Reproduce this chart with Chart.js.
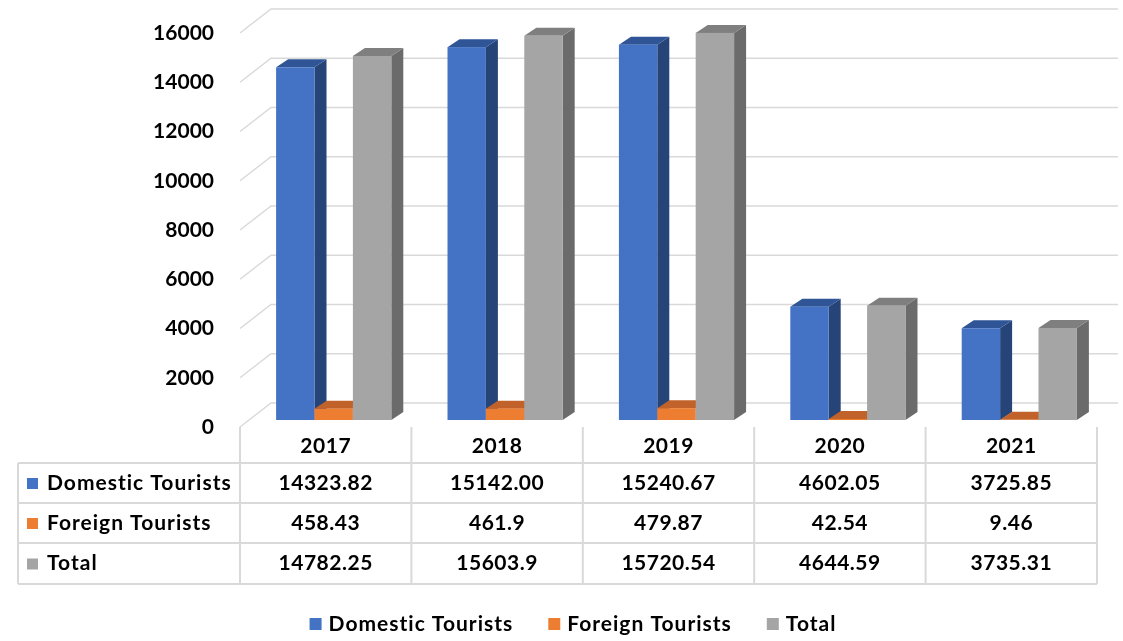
<!DOCTYPE html>
<html>
<head>
<meta charset="utf-8">
<script src="https://cdn.jsdelivr.net/npm/chart.js@4.4.0/dist/chart.umd.min.js"></script>
<style>
  html, body { margin: 0; padding: 0; background: #fff; }
  #wrap { width: 1123px; height: 641px; }
</style>
</head>
<body>
<div id="wrap"><canvas id="tourChart"></canvas></div>
<script>
const years = ["2017", "2018", "2019", "2020", "2021"];
// values kept as the table prints them
const domestic = ["14323.82", "15142.00", "15240.67", "4602.05", "3725.85"];
const foreign = ["458.43", "461.9", "479.87", "42.54", "9.46"];
const total = ["14782.25", "15603.9", "15720.54", "4644.59", "3735.31"];
const yMax = 16000;
const yStep = 2000;

const FONT = "Lato, 'Open Sans', sans-serif";
const DEPTH_X = 12, DEPTH_Y = 8;      // bar depth
const WALL_X = 23, WALL_Y = 17;       // back wall offset from bar front
const FLOOR_X = -8, FLOOR_Y = 7;      // front edge offset
const GRID = "#d9d9d9";

function poly(ctx, pts, color) {
    ctx.beginPath();
    ctx.moveTo(pts[0][0], pts[0][1]);
    for (let k = 1; k < pts.length; k++) ctx.lineTo(pts[k][0], pts[k][1]);
    ctx.closePath();
    ctx.fillStyle = color;
    ctx.fill();
}

const bars3d = {
    id: "bars3d",
    beforeDatasetsDraw(chart) {
        const ctx = chart.ctx;
        const ys = chart.scales.y;
        const area = chart.chartArea;
        ctx.save();
        // back wall gridlines with the slanted side wall piece
        ctx.strokeStyle = GRID;
        ctx.lineWidth = 1.5;
        ys.ticks.forEach(t => {
            const py = ys.getPixelForValue(t.value);
            ctx.beginPath();
            ctx.moveTo(area.left + FLOOR_X, py + FLOOR_Y);
            ctx.lineTo(area.left + WALL_X, py - WALL_Y);
            ctx.lineTo(area.right + 13, py - WALL_Y);
            ctx.stroke();
        });
        // bars, category by category, left to right in a group
        const n = chart.data.labels.length;
        for (let i = 0; i < n; i++) {
            chart.data.datasets.forEach((ds, d) => {
                const el = chart.getDatasetMeta(d).data[i];
                const l = el.x - el.width / 2, r = el.x + el.width / 2;
                const t = el.y, b = el.base;
                poly(ctx, [[r, t], [r + DEPTH_X, t - DEPTH_Y], [r + DEPTH_X, b - DEPTH_Y], [r, b]], ds.sideColor);
                poly(ctx, [[l, t], [l + DEPTH_X, t - DEPTH_Y], [r + DEPTH_X, t - DEPTH_Y], [r, t]], ds.topColor);
                ctx.fillStyle = ds.backgroundColor;
                ctx.fillRect(l, t, r - l, b - t);
            });
        }
        ctx.restore();
        return false;
    },
    afterDraw(chart) {
        const ctx = chart.ctx;
        const xs = chart.scales.x;
        const area = chart.chartArea;
        const colW = (xs.right - xs.left) / years.length;
        const tLeft = xs.left + FLOOR_X;           // first year column
        const tRight = tLeft + colW * years.length;
        const outer = 18;
        const top = area.bottom + FLOOR_Y;
        const rowLines = [top + 36, top + 76, top + 116, top + 157];
        ctx.save();
        ctx.strokeStyle = GRID;
        ctx.lineWidth = 2;
        rowLines.forEach(y => {
            ctx.beginPath(); ctx.moveTo(outer, y); ctx.lineTo(tRight, y); ctx.stroke();
        });
        ctx.beginPath(); ctx.moveTo(outer, rowLines[0]); ctx.lineTo(outer, rowLines[3]); ctx.stroke();
        for (let i = 0; i <= years.length; i++) {
            const x = tLeft + colW * i;
            ctx.beginPath(); ctx.moveTo(x, top); ctx.lineTo(x, rowLines[3]); ctx.stroke();
        }

        ctx.fillStyle = "#000";
        ctx.textAlign = "center";
        ctx.textBaseline = "middle";
        ctx.font = "bold 21px " + FONT;
        ctx.letterSpacing = "0.5px";
        years.forEach((yr, i) => {
            ctx.fillText(yr, tLeft + colW * (i + 0.5), (top + rowLines[0]) / 2 + 1);
        });
        chart.data.datasets.forEach((ds, d) => {
            const cy = (rowLines[d] + rowLines[d + 1]) / 2;
            ctx.fillStyle = ds.backgroundColor;
            ctx.fillRect(27, cy - 5, 11, 11);
            ctx.fillStyle = "#000";
            ctx.textAlign = "left";
            ctx.letterSpacing = "1px";
            ctx.fillText(ds.label, 47, cy);
            ctx.textAlign = "center";
            ctx.letterSpacing = "0.5px";
            ds.text.forEach((s, i) => ctx.fillText(s, tLeft + colW * (i + 0.5), cy));
        });

        // legend
        ctx.letterSpacing = "1px";
        const box = 12, gapIn = 7, gapOut = 35;
        const items = chart.data.datasets.map(ds => ({ ds, w: ctx.measureText(ds.label).width }));
        const totalW = items.reduce((s, it) => s + box + gapIn + it.w, 0) + gapOut * (items.length - 1);
        let x = 573 - totalW / 2;
        const ly = 624;
        ctx.textAlign = "left";
        items.forEach(it => {
            ctx.fillStyle = it.ds.backgroundColor;
            ctx.fillRect(x, ly - 6, box, box);
            ctx.fillStyle = "#000";
            ctx.fillText(it.ds.label, x + box + gapIn, ly);
            x += box + gapIn + it.w + gapOut;
        });
        ctx.restore();
    }
};

new Chart(document.getElementById("tourChart"), {
    type: "bar",
    data: {
        labels: years,
        datasets: [
            { label: "Domestic Tourists", data: domestic.map(Number), text: domestic,
              backgroundColor: "#4472c4", sideColor: "#264478", topColor: "#2f5597" },
            { label: "Foreign Tourists", data: foreign.map(Number), text: foreign,
              backgroundColor: "#ed7d31", sideColor: "#ae5a21", topColor: "#c0622a" },
            { label: "Total", data: total.map(Number), text: total,
              backgroundColor: "#a5a5a5", sideColor: "#6b6b6b", topColor: "#7f7f7f" }
        ]
    },
    options: {
        responsive: true,
        maintainAspectRatio: false,
        animation: false,
        layout: { padding: { top: 26, right: 18, bottom: 221, left: 0 } },
        datasets: { bar: { barPercentage: 1, categoryPercentage: 0.672 } },
        plugins: { legend: { display: false }, tooltip: { enabled: false } },
        scales: {
            x: { display: false },
            y: {
                min: 0,
                max: yMax,
                afterFit(scale) {
                    scale.width = 248;
                    scale.paddingTop = 0;
                    scale.paddingBottom = 0;
                },
                border: { display: false },
                grid: { display: false, drawTicks: false },
                ticks: {
                    stepSize: yStep,
                    padding: 34,
                    labelOffset: 7,
                    color: "#000",
                    font: { family: FONT, size: 21, weight: "bold" },
                    callback: v => String(v)
                }
            }
        }
    },
    plugins: [bars3d]
});
</script>
</body>
</html>
